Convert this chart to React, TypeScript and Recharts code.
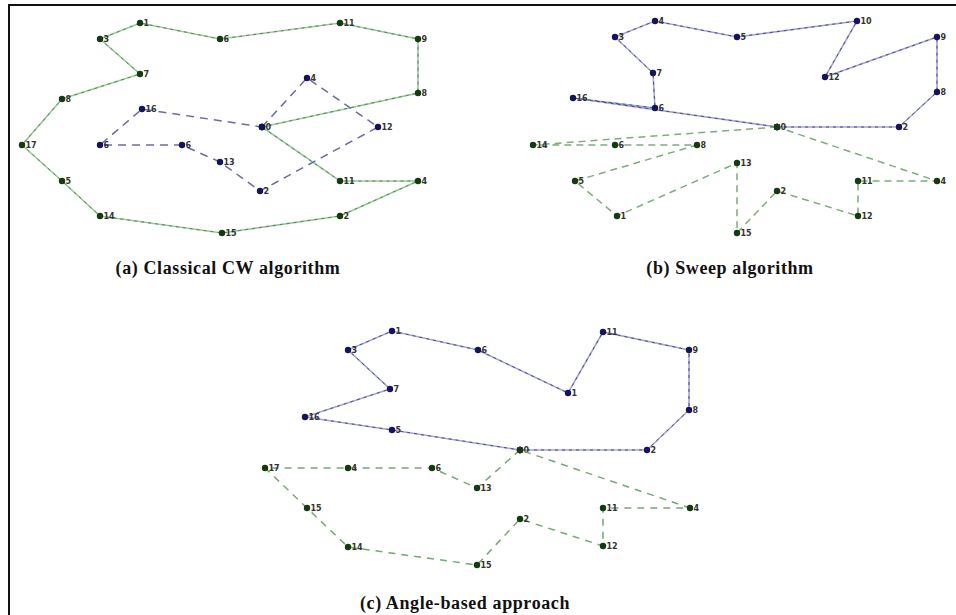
import { ScatterChart, Scatter, XAxis, YAxis } from 'recharts';

type Pt = { x: number; y: number; label: string };

const W = 956;
const H = 615;

// (a) Classical CW algorithm
const cwOuter: Pt[] = [
  { x: 262, y: 127, label: '0' },
  { x: 418, y: 93, label: '8' },
  { x: 418, y: 39, label: '9' },
  { x: 340, y: 23, label: '11' },
  { x: 220, y: 39, label: '6' },
  { x: 140, y: 23, label: '1' },
  { x: 100, y: 39, label: '3' },
  { x: 140, y: 74, label: '7' },
  { x: 62, y: 99, label: '8' },
  { x: 22, y: 145, label: '17' },
  { x: 62, y: 181, label: '5' },
  { x: 100, y: 216, label: '14' },
  { x: 222, y: 233, label: '15' },
  { x: 340, y: 216, label: '2' },
  { x: 418, y: 181, label: '4' },
  { x: 340, y: 181, label: '11' },
  { x: 262, y: 127, label: '' },
];
const cwInner: Pt[] = [
  { x: 262, y: 127, label: '' },
  { x: 307, y: 78, label: '4' },
  { x: 378, y: 127, label: '12' },
  { x: 260, y: 191, label: '2' },
  { x: 220, y: 162, label: '13' },
  { x: 182, y: 145, label: '6' },
  { x: 100, y: 145, label: '6' },
  { x: 142, y: 109, label: '16' },
  { x: 262, y: 127, label: '' },
];

// (b) Sweep algorithm
const sweepBlue: Pt[] = [
  { x: 777, y: 127, label: '0' },
  { x: 899, y: 127, label: '2' },
  { x: 937, y: 92, label: '8' },
  { x: 937, y: 37, label: '9' },
  { x: 825, y: 77, label: '12' },
  { x: 857, y: 21, label: '10' },
  { x: 737, y: 37, label: '5' },
  { x: 655, y: 21, label: '4' },
  { x: 615, y: 37, label: '3' },
  { x: 653, y: 73, label: '7' },
  { x: 655, y: 108, label: '6' },
  { x: 573, y: 98, label: '16' },
  { x: 777, y: 127, label: '' },
];
const sweepGreen: Pt[] = [
  { x: 777, y: 127, label: '' },
  { x: 533, y: 145, label: '14' },
  { x: 615, y: 145, label: '6' },
  { x: 697, y: 145, label: '8' },
  { x: 575, y: 181, label: '5' },
  { x: 617, y: 216, label: '1' },
  { x: 737, y: 163, label: '13' },
  { x: 737, y: 233, label: '15' },
  { x: 777, y: 191, label: '2' },
  { x: 858, y: 216, label: '12' },
  { x: 858, y: 181, label: '11' },
  { x: 937, y: 181, label: '4' },
  { x: 777, y: 127, label: '' },
];

// (c) Angle-based approach
const angleBlue: Pt[] = [
  { x: 520, y: 450, label: '0' },
  { x: 647, y: 450, label: '2' },
  { x: 689, y: 410, label: '8' },
  { x: 689, y: 350, label: '9' },
  { x: 603, y: 332, label: '11' },
  { x: 568, y: 393, label: '1' },
  { x: 478, y: 350, label: '6' },
  { x: 392, y: 331, label: '1' },
  { x: 348, y: 350, label: '3' },
  { x: 390, y: 389, label: '7' },
  { x: 305, y: 417, label: '16' },
  { x: 392, y: 430, label: '5' },
  { x: 520, y: 450, label: '' },
];
const angleGreen: Pt[] = [
  { x: 520, y: 450, label: '' },
  { x: 477, y: 488, label: '13' },
  { x: 432, y: 468, label: '6' },
  { x: 348, y: 468, label: '4' },
  { x: 265, y: 468, label: '17' },
  { x: 307, y: 508, label: '15' },
  { x: 348, y: 547, label: '14' },
  { x: 477, y: 565, label: '15' },
  { x: 520, y: 519, label: '2' },
  { x: 603, y: 546, label: '12' },
  { x: 603, y: 508, label: '11' },
  { x: 690, y: 508, label: '4' },
  { x: 520, y: 450, label: '' },
];

const captions = [
  { text: '(a) Classical CW algorithm', x: 228, y: 268 },
  { text: '(b) Sweep algorithm', x: 730, y: 268 },
  { text: '(c) Angle-based approach', x: 465, y: 603 },
];

const GREEN_LIGHT = '#9cc89c';
const GREEN_DASH = '#4f8a4f';
const BLUE_LIGHT = '#a4a4d4';
const BLUE_DASH = '#4a4a92';

const nodeShape = (fill: string) => (p: any) => {
  const { cx, cy, payload } = p;
  return (
    <g>
      <circle cx={cx} cy={cy} r={3.2} fill={fill} />
      {payload.label && (
        <text x={cx + 3.5} y={cy + 3} fontSize={8} fontWeight={700} fill="#333" fontFamily="DejaVu Sans">
          {payload.label}
        </text>
      )}
    </g>
  );
};
const noShape = () => <g />;

export default function App() {
  return (
    <div style={{ position: 'absolute', left: 0, top: 0, width: W, height: H, background: '#fff', overflow: 'hidden' }}>
      <div style={{ position: 'absolute', left: 8, top: 4, width: W - 8, height: H - 4, borderLeft: '2px solid #111', borderTop: '2px solid #111' }} />
      <div style={{ position: 'absolute', left: 0, top: 0 }}>
        <ScatterChart width={W} height={H} margin={{ top: 0, right: 0, bottom: 0, left: 0 }}>
          <XAxis type="number" dataKey="x" domain={[0, W]} allowDataOverflow hide />
          <YAxis type="number" dataKey="y" domain={[0, H]} allowDataOverflow reversed hide />

          <Scatter data={cwOuter} line={{ stroke: GREEN_LIGHT, strokeWidth: 1.6 }} lineType="joint" shape={noShape} isAnimationActive={false} />
          <Scatter data={cwOuter} line={{ stroke: GREEN_DASH, strokeWidth: 1, strokeDasharray: '3 4' }} lineType="joint" shape={nodeShape('#143a14')} isAnimationActive={false} />
          <Scatter data={cwInner} line={{ stroke: '#6a6aaa', strokeWidth: 1.5, strokeDasharray: '8 6' }} lineType="joint" shape={nodeShape('#14145e')} isAnimationActive={false} />

          <Scatter data={sweepBlue} line={{ stroke: BLUE_LIGHT, strokeWidth: 1.6 }} lineType="joint" shape={noShape} isAnimationActive={false} />
          <Scatter data={sweepBlue} line={{ stroke: BLUE_DASH, strokeWidth: 1, strokeDasharray: '3 4' }} lineType="joint" shape={nodeShape('#14145e')} isAnimationActive={false} />
          <Scatter data={sweepGreen} line={{ stroke: '#7aae7a', strokeWidth: 1.5, strokeDasharray: '7 5' }} lineType="joint" shape={nodeShape('#143a14')} isAnimationActive={false} />

          <Scatter data={angleBlue} line={{ stroke: BLUE_LIGHT, strokeWidth: 1.6 }} lineType="joint" shape={noShape} isAnimationActive={false} />
          <Scatter data={angleBlue} line={{ stroke: BLUE_DASH, strokeWidth: 1, strokeDasharray: '3 4' }} lineType="joint" shape={nodeShape('#14145e')} isAnimationActive={false} />
          <Scatter data={angleGreen} line={{ stroke: '#74a874', strokeWidth: 1.5, strokeDasharray: '7 6' }} lineType="joint" shape={nodeShape('#143a14')} isAnimationActive={false} />
        </ScatterChart>
      </div>
      {captions.map((c) => (
        <div
          key={c.text}
          style={{
            position: 'absolute',
            left: c.x,
            top: c.y,
            transform: 'translate(-50%, -50%)',
            whiteSpace: 'nowrap',
            fontFamily: '"Liberation Serif", serif',
            fontWeight: 700,
            fontSize: 18,
            letterSpacing: 0.6,
            color: '#111',
          }}
        >
          {c.text}
        </div>
      ))}
    </div>
  );
}
